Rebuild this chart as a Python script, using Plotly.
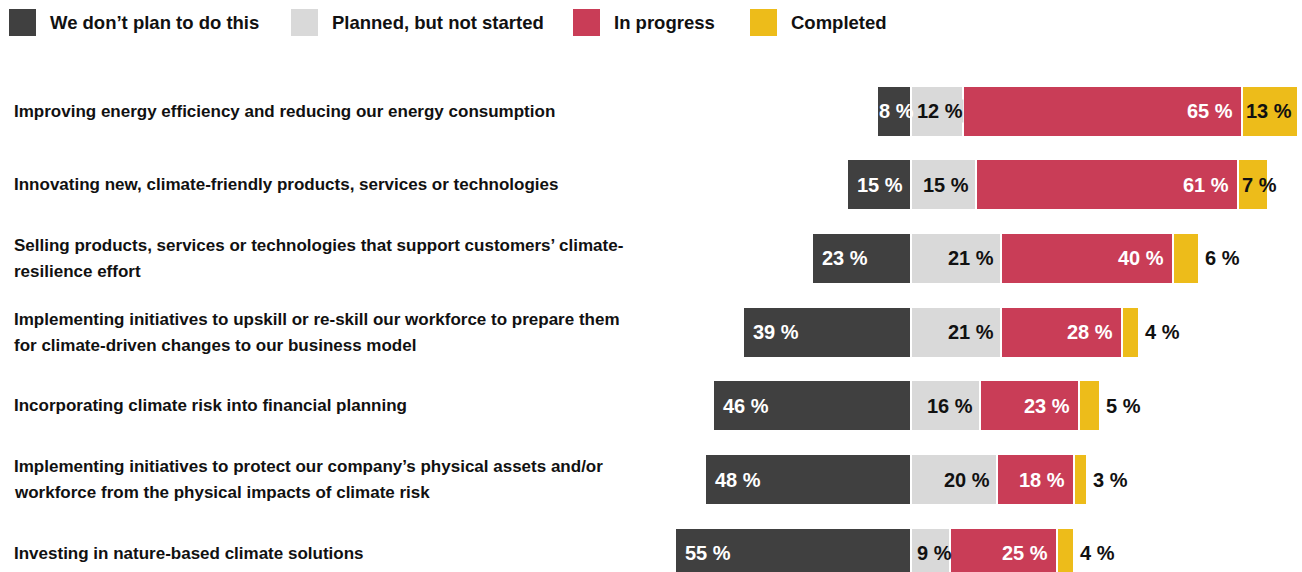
import plotly.graph_objects as go

# ---------------- data ----------------
categories = [
    ["Improving energy efficiency and reducing our energy consumption"],
    ["Innovating new, climate-friendly products, services or technologies"],
    ["Selling products, services or technologies that support customers’ climate-",
     "resilience effort"],
    ["Implementing initiatives to upskill or re-skill our workforce to prepare them",
     "for climate-driven changes to our business model"],
    ["Incorporating climate risk into financial planning"],
    ["Implementing initiatives to protect our company’s physical assets and/or",
     "workforce from the physical impacts of climate risk"],
    ["Investing in nature-based climate solutions"],
]
series_names = ["We don’t plan to do this", "Planned, but not started", "In progress", "Completed"]
dont_plan = [8, 15, 23, 39, 46, 48, 55]
planned = [12, 15, 21, 21, 16, 20, 9]
in_progress = [65, 61, 40, 28, 23, 18, 25]
completed = [13, 7, 6, 4, 5, 3, 4]

# ---------------- style ----------------
colors = ["#404040", "#d9d9d9", "#c93d57", "#edbc1a"]
text_colors = ["#ffffff", "#111111", "#ffffff", "#111111"]
FONT = "Liberation Sans, Arial, Helvetica, sans-serif"
W, H = 1302, 572
TOP = 60
S = 4.3            # px per percent
X0 = 911           # pixel of the zero line
ROW0 = 111         # pixel centre of first row
ROWSTEP = 73.7     # pixel distance between rows
BAR_PX = 51

xrange_ = [-X0 / S, (W - X0) / S]
yrange_ = [(H - ROW0) / ROWSTEP, -(ROW0 - TOP) / ROWSTEP]
rows = list(range(len(categories)))

fig = go.Figure()
series = [dont_plan, planned, in_progress, completed]
for i, (name, vals) in enumerate(zip(series_names, series)):
    xv = [-v for v in vals] if i == 0 else vals
    fig.add_trace(go.Bar(
        y=rows, x=xv, orientation="h", name=name,
        marker=dict(color=colors[i], line=dict(color="white", width=2)),
        width=BAR_PX / ROWSTEP, showlegend=False, hoverinfo="skip",
    ))

annotations = []
shapes = []
label_font = dict(family=FONT, size=20, weight="bold")

for r in rows:
    # dark: inside, from left end
    v = dont_plan[r]
    if v < 10:
        annotations.append(dict(x=0, y=r, xanchor="right", xshift=4, text=f"{v} %"))
    else:
        annotations.append(dict(x=-v, y=r, xanchor="left", xshift=9, text=f"{v} %"))
    annotations[-1]["font"] = dict(label_font, color=text_colors[0])

    # light
    v = planned[r]
    if v < 13:
        annotations.append(dict(x=0, y=r, xanchor="left", xshift=5, text=f"{v} %",
                                bgcolor=colors[1] if r == 0 else None))
    else:
        annotations.append(dict(x=v, y=r, xanchor="right", xshift=-6, text=f"{v} %"))
    annotations[-1]["font"] = dict(label_font, color=text_colors[1])

    # red: right aligned inside
    end_red = planned[r] + in_progress[r]
    annotations.append(dict(x=end_red, y=r, xanchor="right", xshift=-8, text=f"{in_progress[r]} %",
                            font=dict(label_font, color=text_colors[2])))

    # yellow: outside unless no room
    end_all = end_red + completed[r]
    if X0 + end_all * S + 52 > W:
        annotations.append(dict(x=end_red, y=r, xanchor="left", xshift=3, text=f"{completed[r]} %"))
    else:
        annotations.append(dict(x=end_all, y=r, xanchor="left", xshift=5, text=f"{completed[r]} %"))
    annotations[-1]["font"] = dict(label_font, color=text_colors[3])

for a in annotations:
    a.setdefault("borderpad", 0)
    a.update(xref="x", yref="y", showarrow=False, yanchor="middle")

# row labels
LINE_PX = 26
for r, lines in enumerate(categories):
    n = len(lines)
    for j, line in enumerate(lines):
        offset = (j - (n - 1) / 2) * LINE_PX
        annotations.append(dict(
            x=12 / W, xref="paper", y=r, yref="y", xanchor="left", yanchor="middle",
            yshift=-offset, text=line, showarrow=False, align="left",
            font=dict(family=FONT, size=17, weight="bold", color="#111111"),
        ))

# legend (drawn manually)
legend_x = [9, 291, 573, 750]
SQ = 27
plot_h = H - TOP
def py2paper(py):
    return (H - py) / plot_h
for i, name in enumerate(series_names):
    x = legend_x[i]
    shapes.append(dict(type="rect", xref="paper", yref="paper",
                       x0=x / W, x1=(x + SQ) / W, y0=py2paper(9 + SQ), y1=py2paper(9),
                       fillcolor=colors[i], line=dict(width=0)))
    annotations.append(dict(x=(x + 39) / W, xref="paper", y=py2paper(9 + SQ / 2), yref="paper",
                            xanchor="left", yanchor="middle", text=name, showarrow=False,
                            font=dict(family=FONT, size=18.5, weight="bold", color="#111111")))

fig.update_layout(
    width=W, height=H,
    margin=dict(l=0, r=0, t=TOP, b=0, pad=0),
    barmode="relative",
    bargap=0,
    plot_bgcolor="white", paper_bgcolor="white",
    xaxis=dict(range=xrange_, showgrid=False, zeroline=False, showticklabels=False,
               showline=False, fixedrange=True),
    yaxis=dict(range=yrange_, showgrid=False, zeroline=False, showticklabels=False,
               showline=False, fixedrange=True),
    annotations=annotations,
    shapes=shapes,
    font=dict(family=FONT),
)

fig.write_html("out.html", config={"displayModeBar": False},
               post_script="document.body.style.margin='0px';")
